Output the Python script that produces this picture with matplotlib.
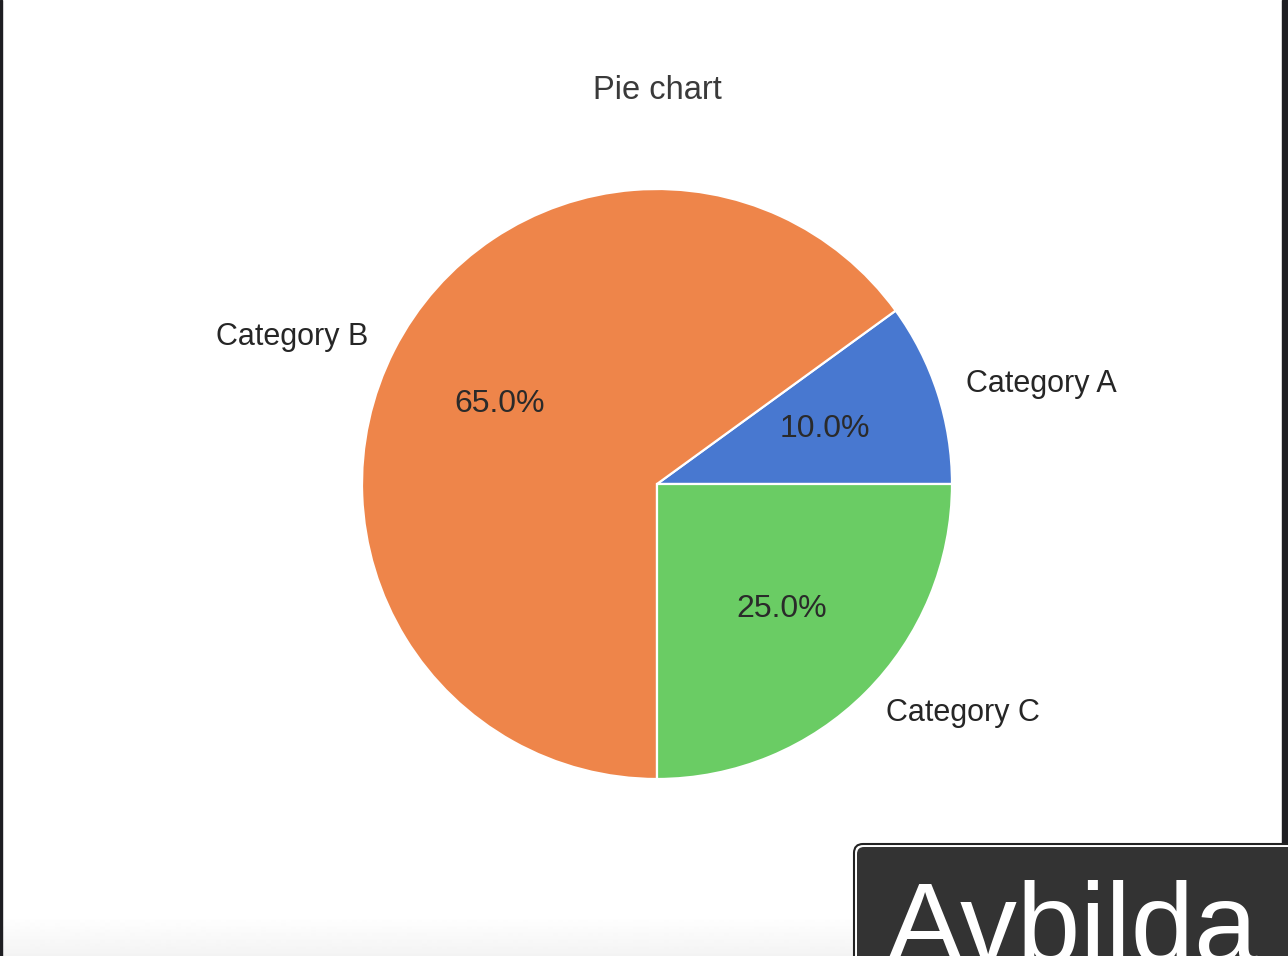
import matplotlib
matplotlib.use('Agg')
import matplotlib.pyplot as plt
from matplotlib.patches import FancyBboxPatch, Rectangle
import numpy as np

plt.rcParams['font.family'] = ['Liberation Sans', 'DejaVu Sans']
plt.rcParams['text.color'] = '#262626'

# Data
categories = ['Category A', 'Category B', 'Category C']
values = [10, 65, 25]
colors = ['#4878d0', '#ee854a', '#6acc64']
title = 'Pie chart'

W, H = 1288, 956
fig = plt.figure(figsize=(W / 100, H / 100), dpi=100)
fig.patch.set_facecolor('white')

# pie axes, placed so the centre sits at (657, 484) px with radius ~295 px
half = 1.25 * 295
ax = fig.add_axes([(657 - half) / W, (H - 484 - half) / H, 2 * half / W, 2 * half / H])
wedges, texts, autotexts = ax.pie(values, labels=categories, colors=colors, autopct='%1.1f%%',
                                  startangle=0, counterclock=True,
                                  wedgeprops={'edgecolor': 'white', 'linewidth': 1.6},
                                  textprops={'fontsize': 22, 'color': '#262626'})
for t in autotexts:
    t.set_fontsize(23)
    t.set_color('#2a2a2a')
ax.set_title(title, fontsize=23.5, color='#3a3a3a', pad=12)

# screenshot frame: dark edges, bottom fade and the overlaid button
ov = fig.add_axes([0, 0, 1, 1], zorder=10)
ov.set_xlim(0, W)
ov.set_ylim(H, 0)
ov.axis('off')
ov.patch.set_alpha(0)

grad = np.linspace(1.0, 0.955, 40).reshape(-1, 1)
ov.imshow(grad, cmap='gray', vmin=0, vmax=1, extent=(0, W, H, 916), aspect='auto', zorder=1)
ov.add_patch(Rectangle((0, 0), 2, H, color='#1e1e22', zorder=2))
ov.add_patch(Rectangle((1282, 0), 6, 845, color='#1e1e22', zorder=2))

ov.add_patch(FancyBboxPatch((854, 844), 460, 140, boxstyle='round,pad=0,rounding_size=9',
                            facecolor='white', edgecolor='#222222', linewidth=1.5, zorder=3))
ov.add_patch(FancyBboxPatch((857, 847), 460, 140, boxstyle='round,pad=0,rounding_size=7',
                            facecolor='#333333', edgecolor='none', zorder=4))
ov.text(887, 962, 'Avbilda', fontsize=82, color='white', ha='left', va='baseline', zorder=5,
        clip_on=True)

fig.savefig('out.png', dpi=100, facecolor='white')
